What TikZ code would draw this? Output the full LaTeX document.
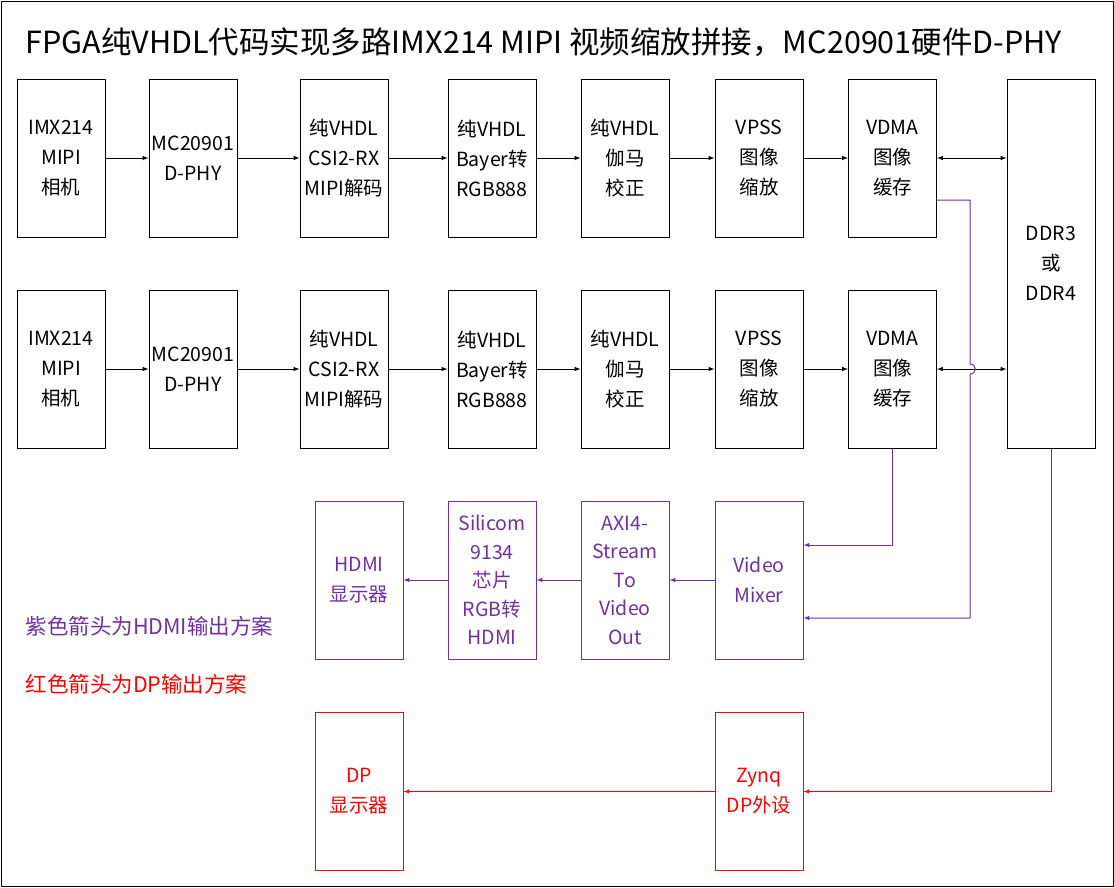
\documentclass[tikz,border=0pt]{standalone}
\usepackage{fontspec}
\setmainfont{Noto Sans CJK SC}
\usetikzlibrary{arrows}
\usetikzlibrary{positioning}
\definecolor{vio}{RGB}{112,48,160}
\tikzset{blk/.style = {draw, line width = 1pt, minimum width = 88, minimum height = 158, align = center, inner sep = 0, font = \fontsize{19.5}{30}\selectfont}}
\tikzset{arr/.style = {->, >=latex, line width = 1pt}}
\begin{document}
\begin{tikzpicture}[x = 1pt, y = -1pt]

      \useasboundingbox (0, 0) rectangle (1114, 887);
      \draw [line width = 1pt] (1, 1) rectangle (1113, 886);
      \node [anchor = west, font = \fontsize{30.5}{34}\selectfont] (title) at (22, 42) {FPGA纯VHDL代码实现多路IMX214 MIPI 视频缩放拼接，MC20901硬件D-PHY};

      \foreach \r/\y in {a/158, b/369} {
        \node [blk] (cam\r) at (61, \y) {IMX214\\MIPI\\相机};
        \node [blk] (phy\r) at (193, \y) {MC20901\\D-PHY};
        \node [blk] (csi\r) at (344, \y) {纯VHDL\\CSI2-RX\\MIPI解码};
        \node [blk] (bay\r) at (492, \y) {纯VHDL\\Bayer转\\RGB888};
        \node [blk] (gam\r) at (625, \y) {纯VHDL\\伽马\\校正};
        \node [blk] (vps\r) at (759, \y) {VPSS\\图像\\缩放};
        \node [blk] (vdm\r) at (892.5, \y) {VDMA\\图像\\缓存};
        \draw [arr] (cam\r) -- (phy\r);
        \draw [arr] (phy\r) -- (csi\r);
        \draw [arr] (csi\r) -- (bay\r);
        \draw [arr] (bay\r) -- (gam\r);
        \draw [arr] (gam\r) -- (vps\r);
        \draw [arr] (vps\r) -- (vdm\r);
      }
      \node [blk, minimum height = 369] (ddr) at (1051, 263.5) {DDR3\\或\\DDR4};
      \draw [arr, <->] (vdma) -- (vdma -| ddr.west);
      \draw [arr, <->] (vdmb) -- (vdmb -| ddr.west);

      \node [blk, draw = vio, text = vio] (hdmi) at (359, 580) {HDMI\\显示器};
      \node [blk, draw = vio, text = vio, font = \fontsize{19.5}{28.5}\selectfont] (sil) at (492, 580) {Silicom\\9134\\芯片\\RGB转\\HDMI};
      \node [blk, draw = vio, text = vio, font = \fontsize{19.5}{28.5}\selectfont] (axi) at (625, 580) {AXI4-\\Stream\\To\\Video\\Out};
      \node [blk, draw = vio, text = vio] (mix) at (759, 580) {Video\\Mixer};
      \node [blk, draw = red, text = red] (dp) at (359, 791.5) {DP\\显示器};
      \node [blk, draw = red, text = red] (zynq) at (759, 791.5) {Zynq\\DP外设};

      \draw [arr, vio] (mix) -- (axi);
      \draw [arr, vio] (axi) -- (sil);
      \draw [arr, vio] (sil) -- (hdmi);
      \draw [arr, vio] (vdmb.south) |- ([yshift = 35] mix.east);
      \coordinate (tap) at ([yshift = -42] vdma.east);
      \draw [arr, vio] (tap) -- (970, 200) -- (970, 364) .. controls (977, 364) and (977, 374) .. (970, 374) -- (970, 618) -- ([yshift = -38] mix.east);
      \draw [arr, red] (ddr.south) |- (zynq);
      \draw [arr, red] (zynq) -- (dp);

      \node [anchor = west, text = vio, font = \fontsize{21.5}{24}\selectfont] (leg1) at (22, 626) {紫色箭头为HDMI输出方案};
      \node [anchor = west, text = red, font = \fontsize{21.5}{24}\selectfont] (leg2) at (22, 684) {红色箭头为DP输出方案};
    \end{tikzpicture}
\end{document}
